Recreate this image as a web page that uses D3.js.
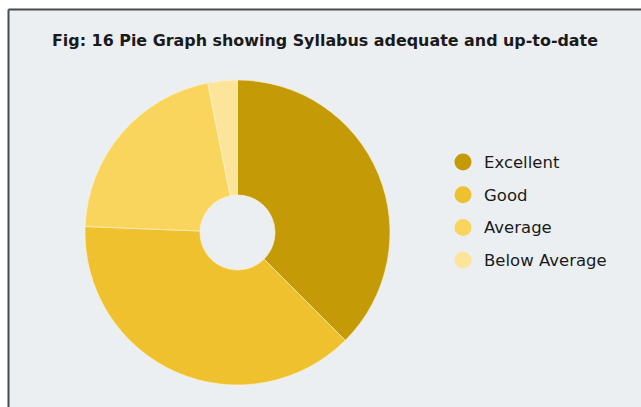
<!DOCTYPE html>
<html><head><meta charset="utf-8">
<script src="https://cdn.jsdelivr.net/npm/d3@7"></script>
<style>
html,body{margin:0;padding:0;background:#fff;}
svg{display:block;}
</style></head>
<body>
<script>
const categories = ["Excellent", "Good", "Average", "Below Average"];
const values = [60, 61, 34, 5];
const colors = ["#C49A06", "#EFC12F", "#F9D55E", "#FCE59B"];
const title = "Fig: 16 Pie Graph showing Syllabus adequate and up-to-date";

const W = 641, H = 407;
const svg = d3.select("body").append("svg").attr("width", W).attr("height", H);

svg.append("rect").attr("x", 0).attr("y", 0).attr("width", W).attr("height", H).attr("fill", "#ffffff");
svg.append("rect").attr("x", 9).attr("y", 10).attr("width", W - 9).attr("height", H - 10).attr("fill", "#EBEFF2");
svg.append("line").attr("x1", 8.5).attr("x2", W).attr("y1", 9.5).attr("y2", 9.5).attr("stroke", "#4a4a4a").attr("stroke-width", 2);
svg.append("line").attr("x1", 8.5).attr("x2", 8.5).attr("y1", 9.5).attr("y2", H).attr("stroke", "#4a4a4a").attr("stroke-width", 2);

svg.append("text").attr("x", 325).attr("y", 46).attr("text-anchor", "middle")
  .attr("font-family", "'Comic Sans MS', 'DejaVu Sans', sans-serif").attr("font-size", 15)
  .attr("font-weight", "600").attr("fill", "#1a1a1a")
  .attr("textLength", 546).attr("lengthAdjust", "spacingAndGlyphs")
  .text(title);

const color = d3.scaleOrdinal().domain(categories).range(colors);
const data = categories.map((c, i) => ({ cat: c, value: values[i] }));
const pie = d3.pie().value(d => d.value).sort(null);
const arc = d3.arc().innerRadius(37.5).outerRadius(152.5);

const g = svg.append("g").attr("transform", "translate(237.5,232.5)");
g.selectAll("path").data(pie(data)).join("path")
  .attr("d", arc).attr("fill", d => color(d.data.cat))
  .attr("stroke", "#fff3cf").attr("stroke-width", 0.6);

const lg = svg.append("g").attr("transform", "translate(463,162)");
const item = lg.selectAll("g").data(categories).join("g")
  .attr("transform", (d, i) => `translate(0,${i * 32.7})`);
item.append("circle").attr("r", 8.5).attr("fill", d => color(d));
item.append("text").attr("x", 21).attr("y", 6)
  .attr("font-family", "'Comic Sans MS', 'DejaVu Sans', sans-serif").attr("font-size", 16.5)
  .attr("fill", "#1a1a1a").text(d => d);
</script>
</body></html>
